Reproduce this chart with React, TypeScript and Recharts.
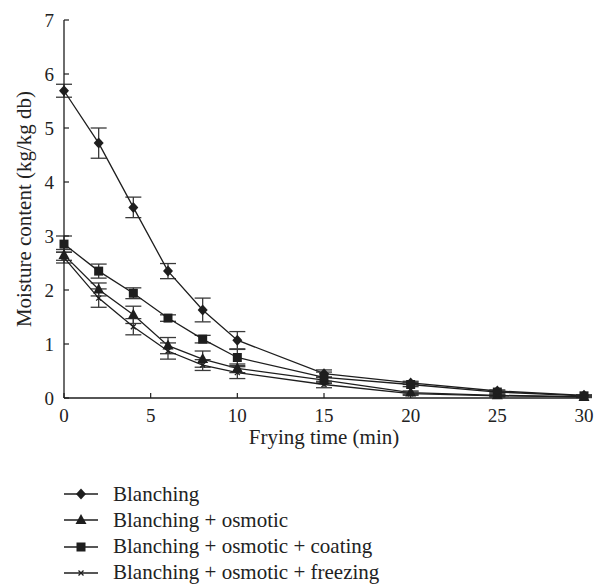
import {
  ErrorBar,
  Legend,
  Line,
  LineChart,
  XAxis,
  YAxis,
} from 'recharts';

// 油炸時間（min）與各前處理的含水率（kg/kg db），讀自原圖
const times = [0, 2, 4, 6, 8, 10, 15, 20, 25, 30];
const blanching = [5.69, 4.72, 3.53, 2.35, 1.63, 1.07, 0.45, 0.28, 0.13, 0.05];
const blanchingErr = [0.12, 0.28, 0.19, 0.14, 0.22, 0.16, 0.07, 0.03, 0.02, 0.01];
const osmotic = [2.65, 2.01, 1.54, 0.97, 0.72, 0.55, 0.33, 0.1, 0.05, 0.02];
const osmoticErr = [0.1, 0.12, 0.16, 0.15, 0.15, 0.08, 0.06, 0.03, 0.02, 0.01];
const coating = [2.85, 2.35, 1.94, 1.48, 1.09, 0.75, 0.38, 0.25, 0.11, 0.04];
const coatingErr = [0.15, 0.13, 0.1, 0.06, 0.07, 0.15, 0.1, 0.04, 0.02, 0.01];
const freezing = [2.6, 1.85, 1.32, 0.87, 0.61, 0.47, 0.25, 0.08, 0.04, 0.02];
const freezingErr = [0.1, 0.17, 0.15, 0.15, 0.1, 0.11, 0.06, 0.03, 0.02, 0.01];
const xTicks = [0, 5, 10, 15, 20, 25, 30];
const yTicks = [0, 1, 2, 3, 4, 5, 6, 7];
const seriesNames = [
  'Blanching',
  'Blanching + osmotic',
  'Blanching + osmotic + coating',
  'Blanching + osmotic + freezing',
];
const markers = ['diamond', 'triangle', 'square', 'cross'];

const INK = '#1e1e1e';
const FONT = '"Liberation Serif", "DejaVu Serif", serif';

const data = times.map((t, i) => ({
  t,
  b: blanching[i],
  bErr: blanchingErr[i],
  o: osmotic[i],
  oErr: osmoticErr[i],
  c: coating[i],
  cErr: coatingErr[i],
  f: freezing[i],
  fErr: freezingErr[i],
}));

function Marker({ kind, cx, cy }: { kind: string; cx: number; cy: number }) {
  if (kind === 'diamond') {
    return (
      <polygon
        points={`${cx},${cy - 5.5} ${cx + 5},${cy} ${cx},${cy + 5.5} ${cx - 5},${cy}`}
        fill={INK}
      />
    );
  }
  if (kind === 'triangle') {
    return (
      <polygon
        points={`${cx},${cy - 6} ${cx + 5.5},${cy + 4} ${cx - 5.5},${cy + 4}`}
        fill={INK}
      />
    );
  }
  if (kind === 'square') {
    return <rect x={cx - 4.5} y={cy - 4.5} width={9} height={9} fill={INK} />;
  }
  return (
    <path
      d={`M${cx - 2.5},${cy - 2.5}L${cx + 2.5},${cy + 2.5}M${cx + 2.5},${cy - 2.5}L${cx - 2.5},${cy + 2.5}`}
      stroke={INK}
      strokeWidth={1.3}
    />
  );
}

const dotFor = (kind: string) => (p: any) => (
  <Marker key={`${kind}-${p.index}`} kind={kind} cx={p.cx} cy={p.cy} />
);

function LegendBox() {
  return (
    <div style={{ height: 126, width: 594, fontFamily: FONT, fontSize: 21, color: '#222' }}>
      {seriesNames.map((name, i) => (
        <div
          key={name}
          style={{
            position: 'absolute',
            left: 0,
            top: 36 + i * 26.3 - 13,
            height: 26,
            display: 'flex',
            alignItems: 'center',
          }}
        >
          <svg width={113} height={26}>
            <line x1={64} x2={98} y1={13} y2={13} stroke={INK} strokeWidth={1.3} />
            <Marker kind={markers[i]} cx={81} cy={13} />
          </svg>
          <span style={{ whiteSpace: 'nowrap' }}>{name}</span>
        </div>
      ))}
    </div>
  );
}

export default function App() {
  const tickStyle = { fontSize: 19, fill: '#222', fontFamily: FONT };
  const series = [
    { key: 'b', err: 'bErr', kind: 'diamond' },
    { key: 'o', err: 'oErr', kind: 'triangle' },
    { key: 'c', err: 'cErr', kind: 'square' },
    { key: 'f', err: 'fErr', kind: 'cross' },
  ];
  return (
    <div style={{ position: 'absolute', left: 0, top: 0, background: '#fff' }}>
      <LineChart
        width={594}
        height={584}
        data={data}
        margin={{ top: 20, right: 10, left: 0, bottom: 0 }}
      >
        <XAxis
          dataKey="t"
          type="number"
          domain={[0, 30]}
          ticks={xTicks}
          height={60}
          tick={tickStyle}
          tickSize={-5}
          tickMargin={16}
          axisLine={{ stroke: INK, strokeWidth: 1.3 }}
          tickLine={{ stroke: INK, strokeWidth: 1.2 }}
          label={{
            value: 'Frying time (min)',
            position: 'center',
            dy: 9,
            style: { fontSize: 21, fill: '#222', fontFamily: FONT },
          }}
        />
        <YAxis
          type="number"
          domain={[0, 7]}
          ticks={yTicks}
          width={64}
          tick={tickStyle}
          tickSize={-5}
          tickMargin={15}
          axisLine={{ stroke: INK, strokeWidth: 1.3 }}
          tickLine={{ stroke: INK, strokeWidth: 1.2 }}
          label={{
            value: 'Moisture content (kg/kg db)',
            angle: -90,
            position: 'center',
            dx: -8,
            style: { fontSize: 21, fill: '#222', fontFamily: FONT, textAnchor: 'middle' },
          }}
        />
        <Legend
          verticalAlign="bottom"
          content={() => <LegendBox />}
          wrapperStyle={{ left: 0, width: 594, height: 126 }}
        />
        {series.map((s) => (
          <Line
            key={s.key}
            dataKey={s.key}
            type="linear"
            stroke={INK}
            strokeWidth={1.3}
            dot={dotFor(s.kind)}
            activeDot={false}
            isAnimationActive={false}
          >
            <ErrorBar
              dataKey={s.err}
              width={8}
              stroke="#3a3a3a"
              strokeWidth={1.3}
              direction="y"
              isAnimationActive={false}
            />
          </Line>
        ))}
      </LineChart>
    </div>
  );
}
